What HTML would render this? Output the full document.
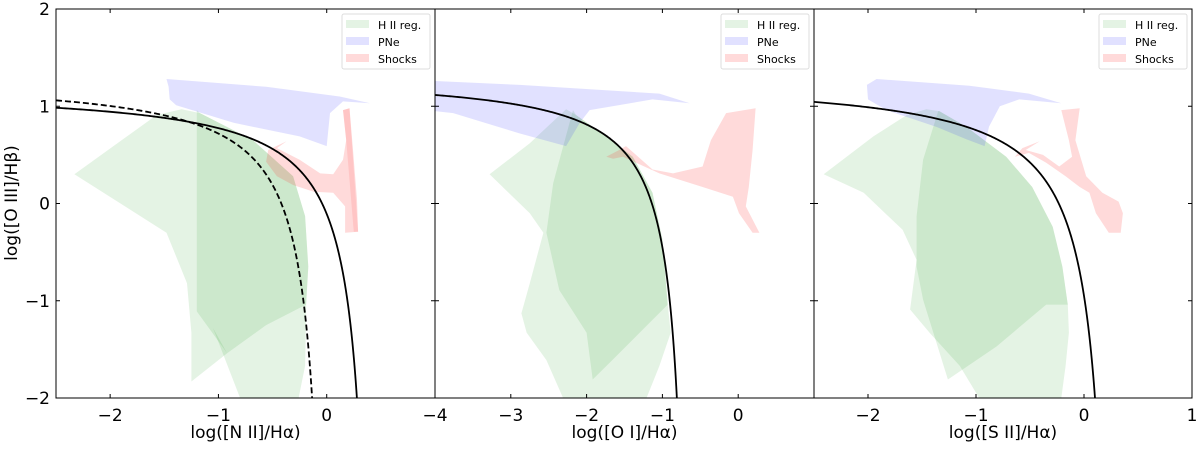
<!DOCTYPE html>
<html><head><meta charset="utf-8"><style>
body{margin:0;background:#fff;}
svg text{font-family:"DejaVu Sans","Liberation Sans",sans-serif;fill:#000;}
</style></head><body>
<svg id="c" width="1200" height="444" viewBox="0 0 1200 444" xmlns="http://www.w3.org/2000/svg"></svg>
<script>
const yTicks=[2,1,0,-1,-2];
const p1XTicks=[-2,-1,0];
const p2XTicks=[-4,-3,-2,-1,0];
const p3XTicks=[-2,-1,0,1];
const xLabels=['log([N II]/H\u03b1)','log([O I]/H\u03b1)','log([S II]/H\u03b1)'];
const legendLabels=['H II reg.','PNe','Shocks'];
// demarcation curve coefficients: y = a/(x-b)+c
const kewleyN2=[0.61,0.47,1.19];
const kauffN2=[0.61,0.05,1.30];
const kewleyO1=[0.73,-0.59,1.33];
const kewleyS2=[0.72,0.32,1.30];
// panel 1 regions
const p1HiiA=[[-2.33,0.30],[-1.57,0.91],[-1.34,0.97],[-1.17,0.93],[-0.68,0.65],[-0.31,0.28],[-0.20,-0.13],[-0.17,-0.65],[-0.19,-1.04],[-0.56,-1.25],[-0.92,-1.54],[-1.25,-1.83],[-1.25,-1.33],[-1.29,-0.82],[-1.48,-0.30]];
const p1HiiB=[[-1.20,0.96],[-1.17,0.93],[-0.68,0.65],[-0.31,0.28],[-0.20,-0.13],[-0.17,-0.65],[-0.19,-1.04],[-0.56,-1.25],[-0.92,-1.54],[-1.20,-1.11]];
const p1HiiC=[[-1.05,-1.28],[-0.92,-1.54],[-0.56,-1.25],[-0.19,-1.04],[-0.19,-1.13],[-0.20,-1.67],[-0.26,-2.0],[-0.80,-2.0]];
const p1Pne=[[-1.48,1.28],[-0.56,1.20],[0.12,1.10],[0.40,1.03],[0.15,1.05],[0.03,0.93],[0.0,0.59],[-0.25,0.69],[-0.86,0.83],[-1.39,1.01],[-1.45,1.07],[-1.46,1.20]];
const p1Shock=[[-0.54,0.55],[-0.37,0.64],[-0.46,0.57],[-0.25,0.45],[-0.06,0.31],[0.06,0.30],[0.15,0.45],[0.18,0.65],[0.15,0.96],[0.21,0.98],[0.24,0.59],[0.28,0.04],[0.29,-0.29],[0.17,-0.30],[0.17,-0.03],[0.06,0.11],[-0.12,0.12],[-0.31,0.19],[-0.46,0.28],[-0.56,0.43]];
const p1ShockCore=[[0.15,0.96],[0.21,0.98],[0.29,-0.29],[0.25,-0.29],[0.18,0.65]];
// panel 2
const p2HiiA=[[-3.28,0.30],[-2.75,0.62],[-2.27,0.97],[-2.14,0.91],[-1.74,0.69],[-1.39,0.48],[-1.13,0.11],[-1.0,-0.37],[-0.93,-1.04],[-0.89,-1.33],[-1.04,-1.67],[-1.21,-2.0],[-2.31,-2.0],[-2.53,-1.61],[-2.79,-1.33],[-2.86,-1.13],[-2.75,-0.82],[-2.57,-0.30],[-2.75,-0.10]];
const p2HiiB=[[-2.18,0.96],[-2.14,0.91],[-1.74,0.69],[-1.39,0.48],[-1.13,0.11],[-1.0,-0.37],[-0.93,-1.04],[-1.57,-1.54],[-1.92,-1.81],[-2.0,-1.33],[-2.36,-0.89],[-2.53,-0.30],[-2.44,0.21]];
const p2Pne=[[-4,1.26],[-2.88,1.22],[-1.04,1.13],[-0.64,1.03],[-1.13,1.07],[-1.96,0.96],[-2.09,0.83],[-2.27,0.59],[-2.88,0.72],[-3.76,0.93],[-4,0.95]];
const p2Shock=[[-1.74,0.48],[-1.57,0.55],[-1.48,0.59],[-1.13,0.35],[-0.86,0.31],[-0.47,0.38],[-0.36,0.65],[-0.16,0.93],[0.23,0.98],[0.19,0.55],[0.14,0.17],[0.10,-0.03],[0.28,-0.30],[0.19,-0.30],[0.01,-0.10],[-0.07,0.07],[-0.47,0.17],[-1.04,0.31],[-1.52,0.48],[-1.65,0.46]];
// panel 3
const p3HiiA=[[-2.41,0.30],[-1.95,0.69],[-1.64,0.91],[-1.46,0.97],[-1.34,0.95],[-1.09,0.79],[-0.72,0.48],[-0.48,0.17],[-0.29,-0.24],[-0.20,-0.65],[-0.15,-1.04],[-0.14,-1.33],[-0.17,-1.67],[-0.21,-2.0],[-0.97,-2.0],[-1.15,-1.67],[-1.43,-1.33],[-1.61,-1.09],[-1.55,-0.58],[-1.68,-0.27],[-2.04,0.11]];
const p3HiiB=[[-1.35,0.95],[-1.34,0.95],[-1.09,0.79],[-0.72,0.48],[-0.48,0.17],[-0.29,-0.24],[-0.20,-0.65],[-0.15,-1.04],[-0.35,-1.04],[-0.81,-1.47],[-1.26,-1.81],[-1.49,-0.99],[-1.55,-0.65],[-1.55,-0.13],[-1.49,0.45]];
const p3Pne=[[-2.01,1.22],[-1.92,1.28],[-1.06,1.21],[-0.51,1.13],[-0.21,1.03],[-0.60,1.07],[-0.78,1.0],[-0.88,0.79],[-0.92,0.59],[-1.09,0.66],[-1.37,0.79],[-1.83,0.96],[-2.0,1.07]];
const p3Shock=[[-0.64,0.48],[-0.57,0.57],[-0.41,0.64],[-0.54,0.55],[-0.38,0.50],[-0.23,0.38],[-0.11,0.48],[-0.14,0.65],[-0.21,0.96],[-0.04,0.98],[-0.08,0.65],[0.02,0.28],[0.17,0.11],[0.32,0.02],[0.36,-0.10],[0.34,-0.30],[0.23,-0.30],[0.11,-0.10],[0.05,0.11],[-0.04,0.17],[-0.17,0.28],[-0.35,0.42],[-0.51,0.52]];

const NS='http://www.w3.org/2000/svg';
const svg=document.getElementById('c');
function mk(tag,attrs,parent){const e=document.createElementNS(NS,tag);for(const k in attrs)e.setAttribute(k,attrs[k]);(parent||svg).appendChild(e);return e;}
const TOP=9,BOT=398;
const panels=[
 {x0:56,x1:435,xmin:-2.5,xmax:1,ticks:p1XTicks,hii:[p1HiiA,p1HiiB,p1HiiC],pne:[p1Pne],sh:[p1Shock,p1ShockCore],curves:[[kewleyN2,false],[kauffN2,true]]},
 {x0:435,x1:814,xmin:-4,xmax:1,ticks:p2XTicks,hii:[p2HiiA,p2HiiB],pne:[p2Pne],sh:[p2Shock],curves:[[kewleyO1,false]]},
 {x0:814,x1:1192,xmin:-2.5,xmax:1,ticks:p3XTicks,hii:[p3HiiA,p3HiiB],pne:[p3Pne],sh:[p3Shock],curves:[[kewleyS2,false]]}
];
const defs=mk('defs',{});
panels.forEach((p,i)=>{
 const sx=v=>p.x0+(v-p.xmin)/(p.xmax-p.xmin)*(p.x1-p.x0);
 const sy=v=>TOP+(2-v)/4*(BOT-TOP);
 const cp=mk('clipPath',{id:'clip'+i},defs);
 mk('rect',{x:p.x0,y:TOP,width:p.x1-p.x0,height:BOT-TOP},cp);
 const g=mk('g',{'clip-path':'url(#clip'+i+')'});
 
 
 const poly=(pts,col,op,name)=>{const e=mk('polygon',{points:pts.map(q=>sx(q[0]).toFixed(1)+','+sy(q[1]).toFixed(1)).join(' '),fill:col,'fill-opacity':op},g);
  
  };
 p.hii.forEach((r,j)=>poly(r,'#2ca02c',0.13,'hii-region-'+(j+1)));
 p.pne.forEach((r,j)=>poly(r,'#3333ff',0.15,'pne-region'));
 p.sh.forEach((r,j)=>poly(r,'#ff3030',j?0.12:0.18,'shock-region-'+(j+1)));
 p.curves.forEach(([c,dash])=>{
  const xend=c[1]+c[0]/(-2-c[2]);
  let d='';
  for(let k=0;k<=400;k++){const x=p.xmin+(xend-p.xmin)*(1-Math.pow(1-k/400,2));const y=c[0]/(x-c[1])+c[2];d+=(k?'L':'M')+sx(x).toFixed(2)+','+sy(y).toFixed(2);}
  const e=mk('path',{d:d,fill:'none',stroke:'#000','stroke-width':1.8,'stroke-dasharray':dash?'6,3':'none'},g);
  
  
 });
 const fr=mk('rect',{x:p.x0,y:TOP,width:p.x1-p.x0,height:BOT-TOP,fill:'none',stroke:'#000','stroke-width':1});
 
 
 p.ticks.forEach(t=>{const X=sx(t);
  mk('line',{x1:X,x2:X,y1:BOT,y2:BOT-4,stroke:'#000'});mk('line',{x1:X,x2:X,y1:TOP,y2:TOP+4,stroke:'#000'});
  const tx=mk('text',{x:X,y:BOT+23,'font-size':17,'text-anchor':'middle'});tx.textContent=(t<0?'\u2212':'')+Math.abs(t);
  
  
 });
 yTicks.forEach(t=>{const Y=sy(t);
  mk('line',{x1:p.x0,x2:p.x0+4,y1:Y,y2:Y,stroke:'#000'});mk('line',{x1:p.x1,x2:p.x1-4,y1:Y,y2:Y,stroke:'#000'});
  if(i===0){const ty=mk('text',{x:p.x0-6,y:Y+6,'font-size':17,'text-anchor':'end'});ty.textContent=(t<0?'\u2212':'')+Math.abs(t);
   
   }
 });
 const xl=mk('text',{x:(p.x0+p.x1)/2,y:438,'font-size':17,'text-anchor':'middle'});xl.textContent=xLabels[i];
 
 
 const lx=p.x1-93,ly=14;
 const lg=mk('g',{});
 
 
 mk('rect',{x:lx,y:ly,width:88,height:55,fill:'#fff',stroke:'#ddd','stroke-width':1,rx:2},lg);
 const cols=[['#2ca02c',0.13],['#3333ff',0.15],['#ff3030',0.18]];
 legendLabels.forEach((l,j)=>{
  mk('rect',{x:lx+4,y:ly+6+j*17,width:23,height:8,fill:cols[j][0],'fill-opacity':cols[j][1]},lg);
  const t=mk('text',{x:lx+36,y:ly+15+j*17,'font-size':11},lg);t.textContent=l;
  
  
 });
});
const yl=mk('text',{x:0,y:0,'font-size':17,'text-anchor':'middle',transform:'translate(17,203) rotate(-90)'});
yl.textContent='log([O III]/H\u03b2)';


</script>
</body></html>
